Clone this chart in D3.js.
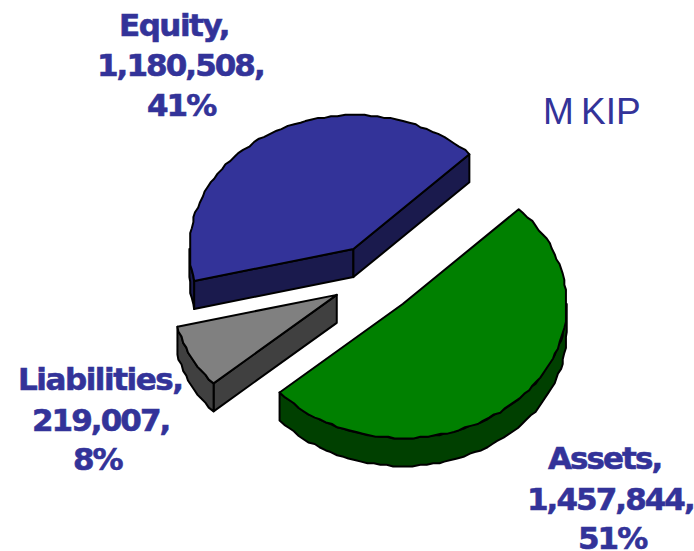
<!DOCTYPE html>
<html>
<head>
<meta charset="utf-8">
<script src="https://d3js.org/d3.v7.min.js"></script>
<style>
  html, body { margin: 0; padding: 0; background: #fff; }
  svg { display: block; }
  .label { font-family: "DejaVu Sans", sans-serif; font-weight: bold; font-size: 31px; letter-spacing: -1.95px; fill: #333399; stroke: #333399; stroke-width: 0.6px; }
  .unit { font-family: "Liberation Sans", sans-serif; font-size: 37px; letter-spacing: 0; word-spacing: -3px; fill: #333399; }
</style>
</head>
<body>
<div id="chart"></div>
<script>
var categories = ["Assets", "Liabilities", "Equity"];
var values = [1457844, 219007, 1180508];
var faceColors = ["#008000", "#808080", "#333399"];
var wallColors = ["#004000", "#404040", "#1a1a4d"];
var unitTitle = "M KIP";

var svgWidth = 694;
var svgHeight = 551;

var pieX = 374;
var pieY = 279;
var radius = 164;
var tilt = 134 / 164;
var depth = 28;
var explode = 42;
var firstAngle = Math.PI / 4;
var jagGrid = 1.6;

var svg = d3.select("#chart")
    .append("svg")
    .attr("width", svgWidth)
    .attr("height", svgHeight);

var total = d3.sum(values);
var rows = categories.map(function (name, i) {
    return { name: name, value: values[i], face: faceColors[i], wall: wallColors[i] };
});

var pie = d3.pie()
    .sort(null)
    .value(d => d.value)
    .startAngle(firstAngle)
    .endAngle(firstAngle + 2 * Math.PI);

var line = d3.line();

// point on the slice rim, angle measured clockwise from north
function rim(a) {
    return [radius * Math.sin(a), -radius * tilt * Math.cos(a)];
}

// rim between two angles, inner points snapped to a grid for the rough outline
function rimPoints(a0, a1) {
    var n = Math.max(2, Math.round((a1 - a0) / 0.04));
    return d3.range(n + 1).map(function (i) {
        var p = rim(a0 + (a1 - a0) * i / n);
        if (i === 0 || i === n) return p;
        return [Math.round(p[0] / jagGrid) * jagGrid, Math.round(p[1] / jagGrid) * jagGrid];
    });
}

function dropped(points) {
    return points.map(p => [p[0], p[1] + depth]);
}

var slices = svg.selectAll(".slice")
    .data(pie(rows).reverse())
    .enter()
    .append("g")
    .attr("class", "slice")
    .attr("transform", function (d) {
        var mid = (d.startAngle + d.endAngle) / 2;
        var dx = explode * Math.sin(mid);
        var dy = -explode * tilt * Math.cos(mid);
        return `translate(${pieX + dx}, ${pieY + dy})`;
    });

function outlined(sel, fill) {
    return sel.attr("fill", fill)
        .attr("stroke", "#000")
        .attr("stroke-width", 2)
        .attr("stroke-linejoin", "round");
}

// Straight walls under the cut edges that face the viewer
slices.each(function (d) {
    var g = d3.select(this);
    var edges = [];
    if (Math.sin(d.startAngle) < 0) edges.push(d.startAngle);
    if (Math.sin(d.endAngle) > 0) edges.push(d.endAngle);
    edges.forEach(function (a) {
        var top = [[0, 0], rim(a)];
        outlined(g.append("path"), d.data.wall)
            .attr("d", line(top.concat(dropped(top).reverse())) + "Z");
    });
});

// Curved wall, only the part that faces the viewer
slices.each(function (d) {
    var a0 = Math.max(d.startAngle, Math.PI / 2);
    var a1 = Math.min(d.endAngle, 3 * Math.PI / 2);
    if (a1 <= a0) return;
    var top = rimPoints(a0, a1);
    outlined(d3.select(this).append("path"), d.data.wall)
        .attr("d", line(top.concat(dropped(top).reverse())) + "Z");
});

// Top faces
slices.each(function (d) {
    var points = [[0, 0]].concat(rimPoints(d.startAngle, d.endAngle));
    outlined(d3.select(this).append("path"), d.data.face)
        .attr("d", line(points) + "Z");
});

// Labels, three lines each; name line gets its own tracking
var labelSpots = {
    Assets: { x: [548, 527, 578], y: [469, 510, 549], tracking: -1.95 },
    Liabilities: { x: [18, 32, 73], y: [390, 431, 470], tracking: -1.45 },
    Equity: { x: [119, 97, 147], y: [36, 76, 116], tracking: -1.5 }
};

rows.forEach(function (d) {
    var lines = [d.name + ",", d3.format(",")(d.value) + ",", d3.format(".0%")(d.value / total)];
    var spot = labelSpots[d.name];
    svg.selectAll(null)
        .data(lines)
        .enter()
        .append("text")
        .attr("class", "label")
        .attr("x", (t, i) => spot.x[i])
        .attr("y", (t, i) => spot.y[i])
        .style("letter-spacing", (t, i) => i === 0 ? spot.tracking + "px" : null)
        .text(t => t);
});

svg.append("text")
    .attr("class", "unit")
    .attr("x", 543)
    .attr("y", 124)
    .text(unitTitle);
</script>
</body>
</html>
